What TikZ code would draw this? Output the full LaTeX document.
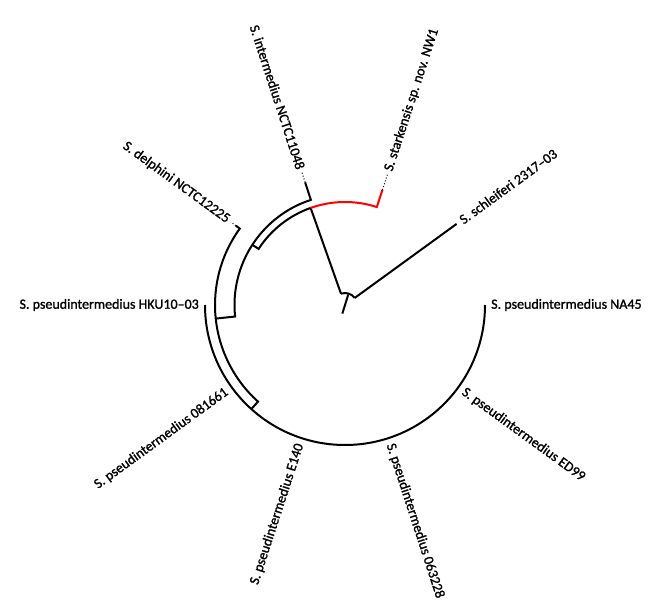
\documentclass[tikz,border=0pt]{standalone}
\usepackage{fontspec}
\setmainfont{Carlito}
\newfontfamily\labfont{Carlito}[FakeBold=1.3]
\tikzset{
  br/.style={line width=2pt, line join=miter},
  rb/.style={br, draw=red},
  dots/.style={dotted, line width=1pt},
  lab/.style={font=\labfont\fontsize{14}{16}\selectfont, inner sep=0pt},
}
\begin{document}
\begin{tikzpicture}[x=1pt,y=1pt]
\useasboundingbox (0,0) rectangle (651,-612);
\begin{scope}[shift={(345,-305)}]
% coordinates
\coordinate (rootS) at (36:12);
\coordinate (rootA) at (109.5:12);
\coordinate (stubA) at (72.75:11);
\coordinate (stubB) at (252.75:9);
\coordinate (schTip) at (36:138);
\coordinate (A) at (109.5:103);
\coordinate (stkTip) at (72:121);
\coordinate (stkDot) at (72:138);
\coordinate (B) at (147:110.5);
\coordinate (intBase) at (108:110.5);
\coordinate (intTip) at (108:129);
\coordinate (intDot) at (108:139);
\coordinate (C) at (186:130);
\coordinate (delBase) at (144:130);
\coordinate (delTip) at (144:135);
\coordinate (delDot) at (144:141);
\coordinate (D) at (228:140);
\coordinate (hku) at (180:140);
% branches
\draw[br] (rootA) arc[start angle=109.5, end angle=36, radius=12];
\draw[br] (stubA) -- (stubB);
\draw[br] (rootS) -- (schTip);
\draw[br] (rootA) -- (A);
\draw[rb] (A) arc[start angle=109.5, end angle=72, radius=103] -- (stkTip);
\draw[dots] (stkTip) -- (stkDot);
\draw[br] (A) arc[start angle=109.5, end angle=147, radius=103] -- (B);
\draw[br] (intTip) -- (intBase) arc[start angle=108, end angle=186, radius=110.5] -- (C);
\draw[dots] (intTip) -- (intDot);
\draw[br] (delTip) -- (delBase) arc[start angle=144, end angle=228, radius=130] -- (D);
\draw[dots] (delTip) -- (delDot);
\draw[br] (hku) arc[start angle=180, end angle=360, radius=140];
% labels
\node[lab, anchor=west, rotate=36]  (Lsch) at (36:143)  {S. schleiferi 2317–03};
\node[lab, anchor=west, rotate=72]  (Lstk) at (72:141)  {S. starkensis sp. nov. NW1};
\node[lab, anchor=east, rotate=-72] (Lint) at (108:143) {S. intermedius NCTC11048};
\node[lab, anchor=east, rotate=-36] (Ldel) at (144:144) {S. delphini NCTC12225};
\node[lab, anchor=east]             (Lhku) at (180:146) {S. pseudintermedius HKU10–03};
\node[lab, anchor=east, rotate=36]  (L081) at (216:146) {S. pseudintermedius 081661};
\node[lab, anchor=east, rotate=72]  (LE14) at (252:146) {S. pseudintermedius E140};
\node[lab, anchor=west, rotate=-72] (L063) at (288:146) {S. pseudintermedius 063228};
\node[lab, anchor=west, rotate=-36] (LED9) at (324:146) {S. pseudintermedius ED99};
\node[lab, anchor=west]             (LNA4) at (0:146)   {S. pseudintermedius NA45};
\end{scope}
\end{tikzpicture}
\end{document}
